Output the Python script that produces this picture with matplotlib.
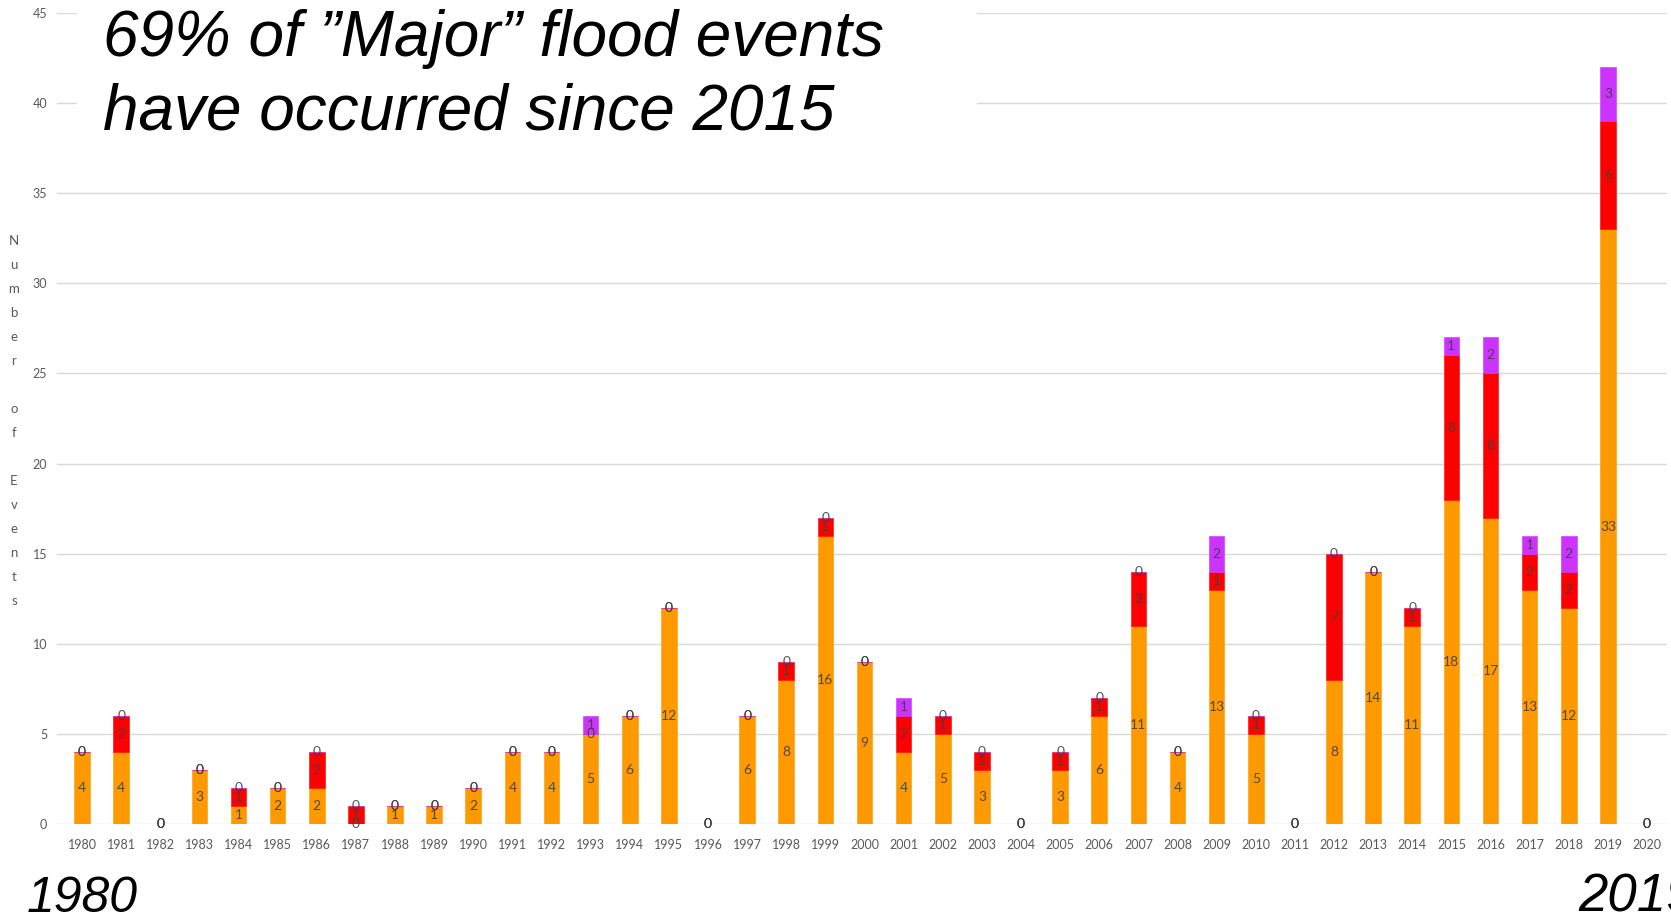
import numpy as np
import matplotlib
matplotlib.use("Agg")
from matplotlib import pyplot as plt
from matplotlib.patches import Rectangle

years = list(range(1980, 2021))
minor = [4, 4, 0, 3, 1, 2, 2, 0, 1, 1, 2, 4, 4, 5, 6, 12, 0, 6, 8, 16, 9,
         4, 5, 3, 0, 3, 6, 11, 4, 13, 5, 0, 8, 14, 11, 18, 17, 13, 12, 33, 0]
moderate = [0, 2, 0, 0, 1, 0, 2, 1, 0, 0, 0, 0, 0, 0, 0, 0, 0, 0, 1, 1, 0,
            2, 1, 1, 0, 1, 1, 3, 0, 1, 1, 0, 7, 0, 1, 8, 8, 2, 2, 6, 0]
major = [0, 0, 0, 0, 0, 0, 0, 0, 0, 0, 0, 0, 0, 1, 0, 0, 0, 0, 0, 0, 0,
         1, 0, 0, 0, 0, 0, 0, 0, 2, 0, 0, 0, 0, 0, 1, 2, 1, 2, 3, 0]
y_ticks = list(range(0, 50, 5))

colors = ["#FF9900", "#FF0000", "#CC33FF"]
W, H = 1671, 923

fig = plt.figure(figsize=(W / 100, H / 100), dpi=100)
ax = fig.add_axes([57 / W, (H - 824) / H, 1610 / W, 811 / H])

x = np.array(years)
bottom = np.zeros(len(years))
for vals, c in zip([minor, moderate, major], colors):
    vals = np.array(vals)
    ax.bar(x, vals, width=0.4, bottom=bottom, color=c, edgecolor=c,
           linewidth=0.4, zorder=2)
    for xi, b, v in zip(x, bottom, vals):
        ax.text(xi, b + v / 2, str(v), ha="center", va="center",
                fontsize=10, family="Lato", color="#404040", alpha=0.9,
                zorder=4)
    bottom = bottom + vals

ax.set_xlim(1979.36, 2020.51)
ax.set_ylim(0, 45)
ax.set_yticks(y_ticks)
ax.set_xticks(years)
ax.set_xticklabels([str(y) for y in years])
ax.grid(axis="y", color="#D9D9D9", linewidth=1, zorder=0)
ax.set_axisbelow(True)
for s in ax.spines.values():
    s.set_visible(False)
ax.tick_params(length=0, labelsize=9, labelcolor="#595959")
ax.tick_params(axis="y", pad=7)
ax.tick_params(axis="x", pad=11)
for lab in ax.get_xticklabels() + ax.get_yticklabels():
    lab.set_family("Lato")

# stacked letters for the axis title
fig.text(14 / W, 1 - 421 / H, "\n".join("Number of Events"), ha="center",
         va="center", fontsize=9.5, family="Lato", color="#595959",
         linespacing=2.2)

# white panel behind the headline
fig.patches.append(Rectangle((77 / W, 1 - 150 / H), 900 / W, 150 / H,
                             transform=fig.transFigure, facecolor="white",
                             edgecolor="none", zorder=5))
fig.text(103 / W, 1 - 130 / H, "69% of \u201dMajor\u201d flood events\nhave occurred since 2015",
         ha="left", va="baseline", fontsize=46, style="italic",
         family="Liberation Sans", color="black", linespacing=1.3, zorder=6)

fig.text(27 / W, 1 - 912 / H, "1980", ha="left", va="baseline", fontsize=36,
         style="italic", family="Liberation Sans", color="black")
fig.text(1578 / W, 1 - 911 / H, "2019", ha="left", va="baseline", fontsize=38,
         style="italic", family="Liberation Sans", color="black")

fig.savefig("out.png", dpi=100)
